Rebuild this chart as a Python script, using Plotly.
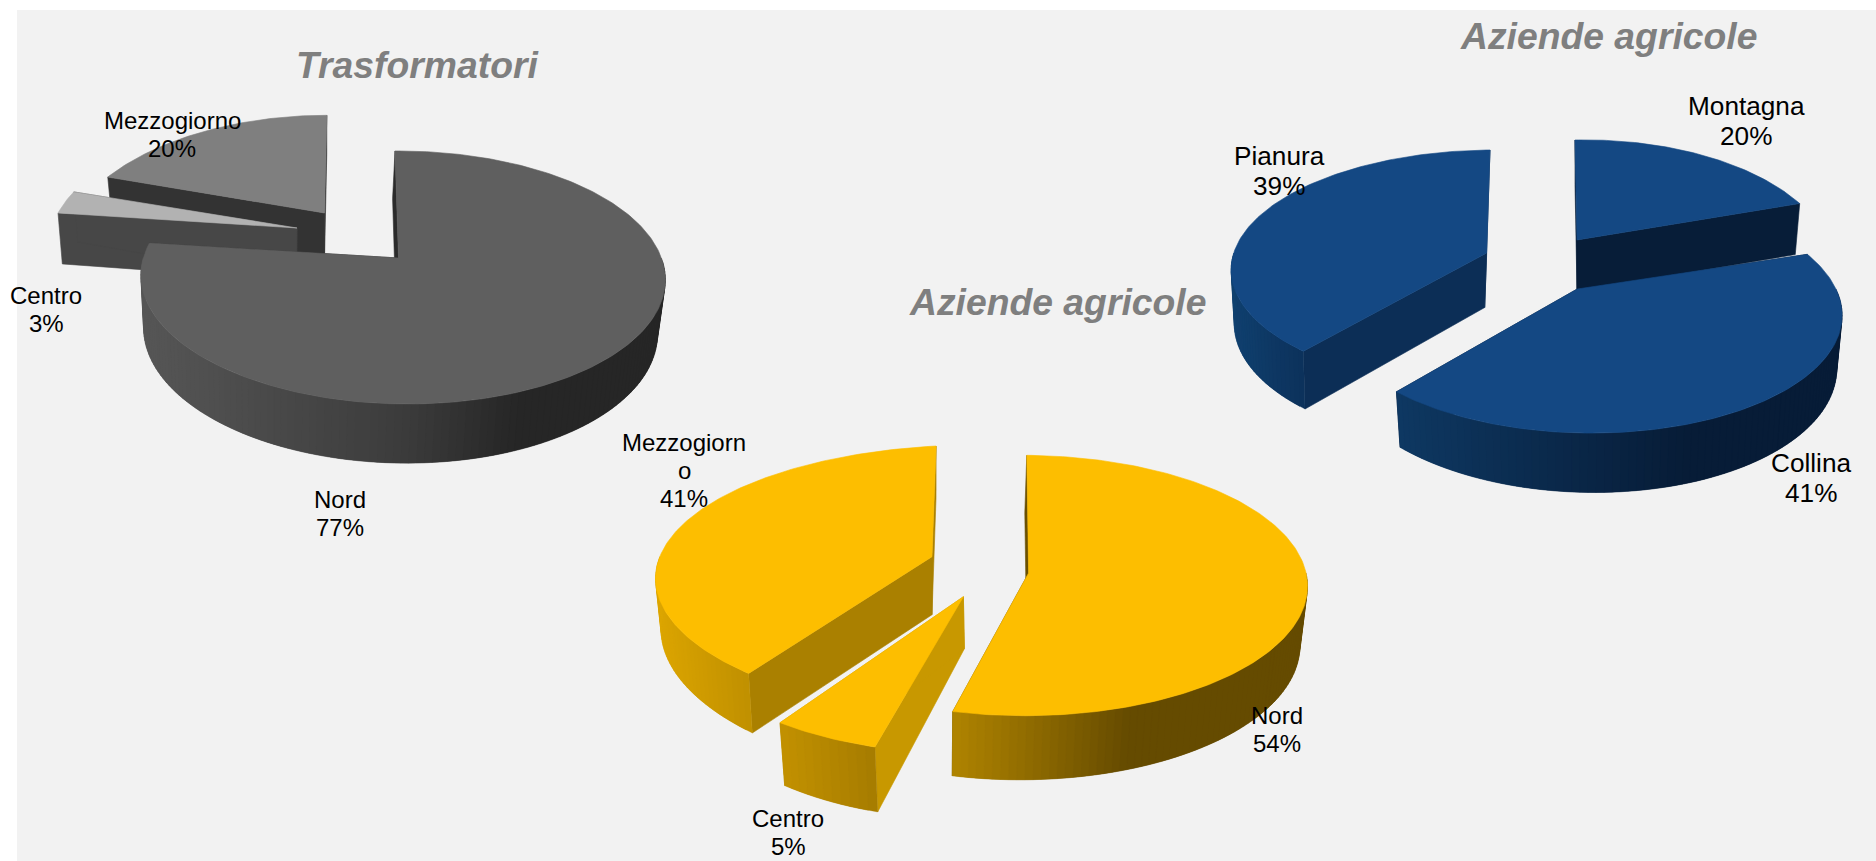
import math
import plotly.graph_objects as go

# ---- data ----
trasformatori_labels = ["Nord", "Centro", "Mezzogiorno"]
trasformatori_values = [77, 3, 20]
aree_labels = ["Nord", "Centro", "Mezzogiorn\no"]
aree_values = [54, 5, 41]
zone_labels = ["Montagna", "Collina", "Pianura"]
zone_values = [20, 41, 39]
titles = ["Trasformatori", "Aziende agricole", "Aziende agricole"]

# ---- layout / styling (pixel-space projection of each wedge) ----
W, H = 1876, 861
BG = "#F2F2F2"
FONT = "Liberation Sans, Arial, sans-serif"


def style(**k):
    d = dict(s=0.98, bdx=0, sk=0, q=0.0, order=0)
    d.update(k)
    return d


gray_style = [
    style(A=(398.5, 258), p=.154, Ry=123.5, Rx=259, q=.015, sk=4, D=52.5, bdx=-2.5, order=2,
          top="#5F5F5F", wall="#2B2B2B", grad=[(0, "#565656"), (.5, "#3C3C3C"), (.72, "#262626"), (1, "#262626")]),
    style(A=(297, 228), p=.154, Ry=125, Rx=251, q=.023, D=52.8, bdx=-.5, order=1,
          top="#B2B2B2", wall="#474747", grad=[(0, "#474747"), (1, "#474747")]),
    style(A=(324.5, 213), p=.3, Ry=127, Rx=250, q=.0, sk=-3, D=48, order=0,
          top="#7F7F7F", wall="#333333", grad=[(0, "#333333"), (1, "#333333")]),
]
yellow_style = [
    style(A=(1028.6, 573), p=.096, Ry=129, Rx=283, q=-.02, sk=2, D=60.5, bdx=-2, order=1,
          top="#FDBE00", wall="#6B5000", grad=[(0, "#B08400"), (.5, "#654B00"), (1, "#654B00")]),
    style(A=(963.4, 596.7), p=.243, Ry=118.6, Rx=272, D=52, bdx=1, order=2,
          top="#FDBE00", wall="#C89800", grad=[(0, "#C29100"), (1, "#A67C00")]),
    style(A=(932, 556.7), p=.17, Ry=129.5, Rx=313, q=.15, sk=-4.8, D=58, order=0,
          top="#FDBE00", wall="#AA8000", grad=[(0, "#DCA500"), (1, "#C09000")]),
]
blue_style = [
    style(A=(1577, 240), p=.196, Ry=119.6, Rx=238, q=.05, sk=2.4, D=51, order=0,
          top="#144883", wall="#071D38", grad=[(0, "#071D38"), (1, "#071D38")]),
    style(A=(1577.2, 289), p=.196, Ry=115.8, Rx=251, q=.03, sk=4, D=50, order=2,
          top="#144883", wall="#071D38", grad=[(0, "#0E3862"), (.65, "#071C37"), (1, "#071C37")]),
    style(A=(1486.7, 253), p=.13, Ry=116.4, Rx=258, q=.02, sk=-3.7, D=54.5, bdx=-2, order=1,
          top="#144883", wall="#0C2E56", grad=[(0, "#10406F"), (1, "#0C315B")]),
]

# label centres (x, y of the block middle), font size, line height
gray_label_pos = [(340, 513), (46, 309.5), (172.3, 134.8)]
yellow_label_pos = [(1276.6, 729.5), (788, 832.5), (684, 470)]
blue_label_pos = [(1746, 121.3), (1811, 477.5), (1279, 171)]
title_pos = [(417, 64.5), (1608.6, 36), (1057, 301.5)]


def hex2rgb(c):
    return tuple(int(c[i:i + 2], 16) for i in (1, 3, 5))


def ramp(stops, t):
    t = max(0, min(1, t))
    for (a, ca), (b, cb) in zip(stops, stops[1:]):
        if t <= b:
            f = (t - a) / (b - a) if b > a else 0
            r1, r2 = hex2rgb(ca), hex2rgb(cb)
            return "rgb(%d,%d,%d)" % tuple(round(x + (y - x) * f) for x, y in zip(r1, r2))
    return stops[-1][1]


def top_pt(st, deg):
    th = math.radians(deg)
    u, v = math.sin(th), -math.cos(th)
    w = 1 - st["p"] * v - st["q"] * u
    return st["A"][0] + (st["Rx"] * u + st["sk"] * v) / w, st["A"][1] + st["Ry"] * v / w, w


def base_pt(st, x, y, w):
    ax, ay = st["A"]
    return ax + st["bdx"] + st["s"] * (x - ax), ay + st["s"] * (y - ay) + st["D"] / w


def poly(fig, xs, ys, color, lw=0.6):
    fig.add_trace(go.Scatter(x=xs + xs[:1], y=ys + ys[:1], mode="lines", fill="toself", fillcolor=color,
                             line=dict(color=color, width=lw), hoverinfo="skip", showlegend=False))


def draw_pie(fig, values, styles):
    total = sum(values)
    spans, c = [], 0
    for val in values:
        spans.append((c / total * 360, (c + val) / total * 360))
        c += val
    for i in sorted(range(len(values)), key=lambda k: styles[k]["order"]):
        st, (a0, a1) = styles[i], spans[i]
        ax, ay = st["A"]
        apex_b = (ax + st["bdx"], ay + st["D"])
        # radial walls
        for ang in (a0, a1):
            x, y, w = top_pt(st, ang)
            bx, by = base_pt(st, x, y, w)
            poly(fig, [x, ax, apex_b[0], bx], [y, ay, apex_b[1], by], st["wall"])
        # curved front wall: overlapping strips so no seams show
        lo, hi = max(a0, 90), min(a1, 270)
        if hi > lo:
            n = max(2, int((hi - lo) / 1.5))
            angs = [lo + (hi - lo) * k / n for k in range(n + 1)]
            pts = [top_pt(st, a) for a in angs]
            bots = [base_pt(st, *p) for p in pts]
            xr = [p[0] for p in pts]
            xl, xh = min(xr), max(xr)
            for k in range(n):
                e = min(k + 2, n)
                t = ((pts[k][0] + pts[k + 1][0]) / 2 - xl) / max(1, xh - xl)
                mid_x = [pts[j][0] for j in range(k, e + 1)]
                mid_y = [pts[j][1] for j in range(k, e + 1)]
                low_x = [bots[j][0] for j in range(e, k - 1, -1)]
                low_y = [bots[j][1] for j in range(e, k - 1, -1)]
                poly(fig, mid_x + low_x, mid_y + low_y, ramp(st["grad"], t), lw=0.3)
        # top face
        m = max(8, int(a1 - a0))
        tp = [top_pt(st, a0 + (a1 - a0) * k / m) for k in range(m + 1)]
        poly(fig, [ax] + [p[0] for p in tp], [ay] + [p[1] for p in tp], st["top"])


def labels_for(names, values, pos, size, lh):
    out = []
    for name, val, (cx, cy) in zip(names, values, pos):
        lines = name.split("\n") + [f"{val}%"]
        y0 = cy - lh * (len(lines) - 1) / 2
        for j, line in enumerate(lines):
            out.append(dict(x=cx, y=y0 + j * lh, text=line, showarrow=False, xanchor="center", yanchor="middle",
                            xref="x", yref="y", font=dict(family=FONT, size=size, color="#000000")))
    return out


fig = go.Figure()
draw_pie(fig, trasformatori_values, gray_style)
draw_pie(fig, zone_values, blue_style)
draw_pie(fig, aree_values, yellow_style)

ann = []
ann += labels_for(trasformatori_labels, trasformatori_values, gray_label_pos, 24, 28)
ann += labels_for(aree_labels, aree_values, yellow_label_pos, 24, 28)
ann += labels_for(zone_labels, zone_values, blue_label_pos, 26.2, 30)
for t, (x, y) in zip(titles, title_pos):
    ann.append(dict(x=x, y=y, text=f"<b><i>{t}</i></b>", showarrow=False, xanchor="center", yanchor="middle",
                    xref="x", yref="y", font=dict(family=FONT, size=37.3, color="#7F7F7F")))

fig.update_layout(
    width=W, height=H, margin=dict(l=0, r=0, t=0, b=0), paper_bgcolor="#FFFFFF", plot_bgcolor="#FFFFFF",
    xaxis=dict(range=[0, W], visible=False, fixedrange=True),
    yaxis=dict(range=[H, 0], visible=False, fixedrange=True),
    shapes=[dict(type="rect", xref="x", yref="y", x0=17, x1=W, y0=10, y1=H, fillcolor=BG, line=dict(width=0), layer="below")],
    annotations=ann,
)
fig.write_html("out.html", post_script="document.body.style.margin='0';document.body.style.overflow='hidden';",
               config={"displayModeBar": False})
